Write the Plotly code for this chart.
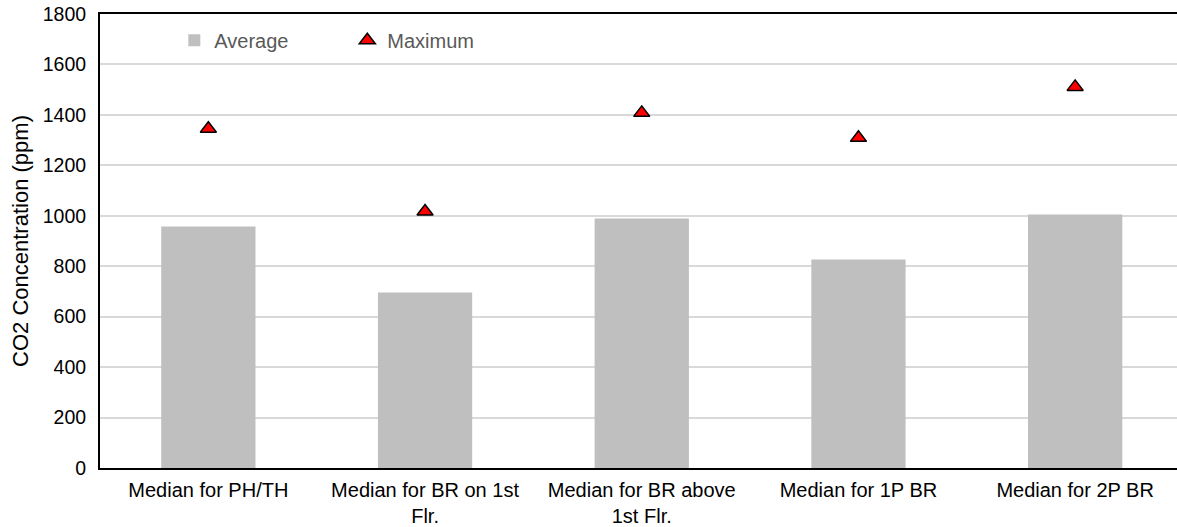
import plotly.graph_objects as go

categories = ["Median for PH/TH", "Median for BR on 1st<br>Flr.", "Median for BR above<br>1st Flr.",
              "Median for 1P BR", "Median for 2P BR"]
average = [957, 696, 989, 827, 1005]
maximum = [1345, 1017, 1408, 1309, 1511]
y_ticks = [0, 200, 400, 600, 800, 1000, 1200, 1400, 1600, 1800]

font_family = "Liberation Sans, Arial, sans-serif"

fig = go.Figure()
fig.add_trace(go.Bar(
    x=list(range(len(categories))), y=average, name="Average",
    marker=dict(color="#bfbfbf", line=dict(width=0)), width=0.435,
))
fig.add_trace(go.Scatter(
    x=list(range(len(categories))), y=maximum, name="Maximum", mode="markers",
    marker=dict(symbol="triangle-up", size=14, color="#ff0000",
                line=dict(color="black", width=1.5)),
))

fig.update_layout(
    width=1177, height=527,
    margin=dict(l=100, r=0, t=14, b=59),
    plot_bgcolor="white", paper_bgcolor="white",
    font=dict(family=font_family, size=19, color="black"),
    showlegend=True,
    legend=dict(
        orientation="h", x=0.069, y=0.985, xanchor="left", yanchor="top",
        font=dict(size=20, color="#595959"), itemwidth=30,
        entrywidth=128, entrywidthmode="pixels", bgcolor="rgba(0,0,0,0)",
    ),
)
fig.update_xaxes(
    tickmode="array", tickvals=list(range(len(categories))), ticktext=categories,
    range=[-0.5, 4.47], showline=True, linecolor="black", linewidth=2,
    mirror=True, ticks="outside", ticklen=3, tickcolor="rgba(0,0,0,0)",
    showgrid=False, tickfont=dict(size=20), automargin=False,
)
fig.update_yaxes(
    range=[0, 1800], tickvals=y_ticks, showline=True, linecolor="black", linewidth=2,
    showgrid=True, gridcolor="#d9d9d9", gridwidth=2,
    ticks="outside", ticklen=8, tickcolor="rgba(0,0,0,0)", zeroline=False,
    ticklabeloverflow="allow", automargin=False,
    title=dict(text="CO2 Concentration (ppm)", font=dict(size=22), standoff=8),
    tickfont=dict(size=19.5),
)

fig.write_html("out.html", config={"displayModeBar": False},
               post_script="document.body.style.margin='0';")
